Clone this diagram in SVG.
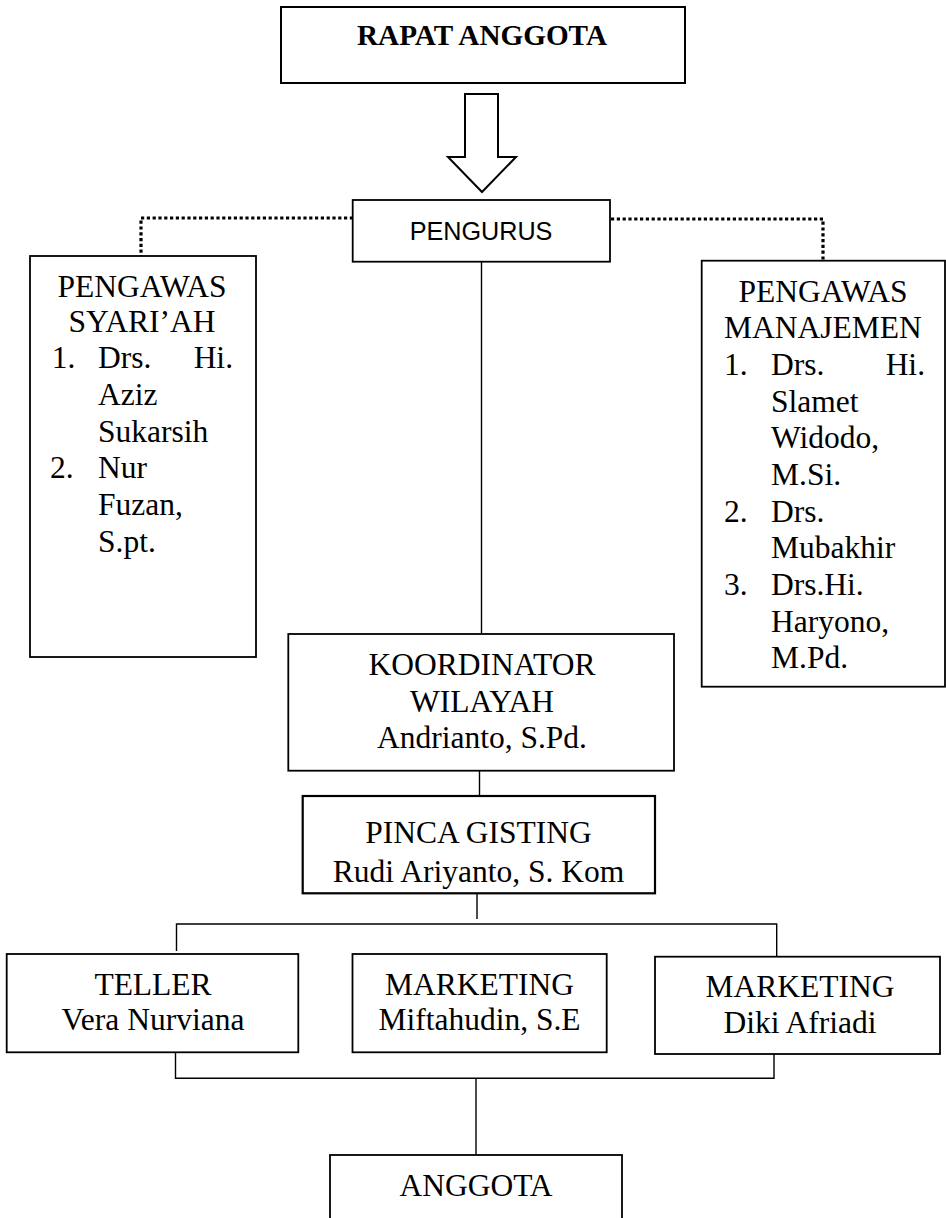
<svg xmlns="http://www.w3.org/2000/svg" width="946" height="1218" viewBox="0 0 946 1218">
<style>
.box{fill:#fff;stroke:#000;stroke-width:1.8}
.ln{fill:none;stroke:#000;stroke-width:1.4}
.dot{fill:none;stroke:#000;stroke-width:3.2;stroke-dasharray:3.2 2.6}
.t{font-family:"Liberation Serif","Times New Roman",serif;font-size:31.5px;fill:#000}
.c{text-anchor:middle}
.e{text-anchor:end}
.b{font-weight:bold;font-size:29.2px}
.s{font-family:"Liberation Sans",Arial,sans-serif;font-size:25.2px;fill:#000;text-anchor:middle}
</style>
<rect width="946" height="1218" fill="#fff"/>
<g id="connectors">
<path class="ln" d="M465,94 H498 V157 H516 L482,192 L448,157 H465 Z" style="stroke-width:2"/>
<path class="dot" d="M353,218 H141 V256"/>
<path class="dot" d="M611,219 H823 V261"/>
<path class="ln" d="M481.5,262 V634"/>
<path class="ln" d="M479.5,771 V796"/>
<path class="ln" d="M477,893 V919"/>
<path class="ln" d="M176.5,951 V924 H776.7 V956"/>
<path class="ln" d="M175.5,1053 V1078.3 H774 V1054"/>
<path class="ln" d="M476,1078.3 V1155"/>
</g>
<g id="rapat">
<rect class="box" x="281" y="7" width="404" height="76" style="stroke-width:2"/>
<text class="t c b" x="482" y="45">RAPAT ANGGOTA</text>
</g>
<g id="pengurus">
<rect class="box" x="352.7" y="200" width="257.3" height="61.7"/>
<text class="s" x="481" y="240">PENGURUS</text>
</g>
<g id="syariah">
<rect class="box" x="30" y="256" width="226" height="401"/>
<text class="t c" x="142" y="296.7">PENGAWAS</text>
<text class="t c" x="142" y="331.7">SYARI’AH</text>
<text class="t" x="51.7" y="368">1.</text>
<text class="t" x="98" y="368">Drs.</text>
<text class="t e" x="233" y="368">Hi.</text>
<text class="t" x="98" y="405">Aziz</text>
<text class="t" x="98" y="441.7">Sukarsih</text>
<text class="t" x="50" y="478">2.</text>
<text class="t" x="98" y="478">Nur</text>
<text class="t" x="98" y="515">Fuzan,</text>
<text class="t" x="98" y="552">S.pt.</text>
</g>
<g id="manajemen">
<rect class="box" x="701.7" y="260.7" width="243.3" height="426"/>
<text class="t c" x="823" y="301.7">PENGAWAS</text>
<text class="t c" x="823" y="338">MANAJEMEN</text>
<text class="t" x="724" y="375">1.</text>
<text class="t" x="771" y="375">Drs.</text>
<text class="t e" x="925" y="375">Hi.</text>
<text class="t" x="771" y="411.7">Slamet</text>
<text class="t" x="771" y="448">Widodo,</text>
<text class="t" x="771" y="485">M.Si.</text>
<text class="t" x="724" y="521.7">2.</text>
<text class="t" x="771" y="521.7">Drs.</text>
<text class="t" x="771" y="558">Mubakhir</text>
<text class="t" x="724" y="595">3.</text>
<text class="t" x="771" y="595">Drs.Hi.</text>
<text class="t" x="771" y="631.7">Haryono,</text>
<text class="t" x="771" y="668">M.Pd.</text>
</g>
<g id="koordinator">
<rect class="box" x="288.3" y="634" width="385.7" height="136.7"/>
<text class="t c" x="482" y="675">KOORDINATOR</text>
<text class="t c" x="482" y="711.7">WILAYAH</text>
<text class="t c" x="482" y="748.3">Andrianto, S.Pd.</text>
</g>
<g id="pinca">
<rect class="box" x="302.7" y="796" width="352.3" height="97.3" style="stroke-width:2.2"/>
<text class="t c" x="478.5" y="843.3">PINCA GISTING</text>
<text class="t c" x="478.5" y="881.7">Rudi Ariyanto, S. Kom</text>
</g>
<g id="teller">
<rect class="box" x="6.7" y="954" width="291.6" height="98.3"/>
<text class="t c" x="153" y="995">TELLER</text>
<text class="t c" x="153" y="1030">Vera Nurviana</text>
</g>
<g id="marketing1">
<rect class="box" x="352.5" y="954" width="254.2" height="98.3"/>
<text class="t c" x="479.5" y="995">MARKETING</text>
<text class="t c" x="479.5" y="1030">Miftahudin, S.E</text>
</g>
<g id="marketing2">
<rect class="box" x="655" y="956.7" width="285" height="97.3"/>
<text class="t c" x="800" y="996.7">MARKETING</text>
<text class="t c" x="800" y="1033">Diki Afriadi</text>
</g>
<g id="anggota">
<rect class="box" x="330" y="1155" width="292" height="80"/>
<text class="t c" x="476" y="1195.7">ANGGOTA</text>
</g>
</svg>
